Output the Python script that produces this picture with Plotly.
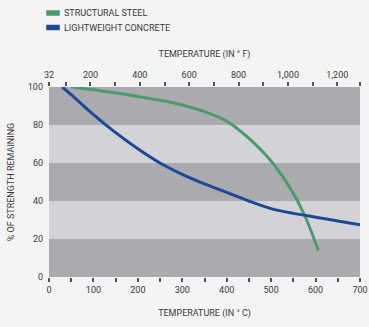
import plotly.graph_objects as go

# ---- data ----
steel_c = [50, 100, 150, 200, 250, 300, 350, 400, 450, 500, 550, 580, 606]
steel_pct = [100, 98.5, 97, 95, 93, 90.5, 87, 82, 73, 61, 44, 30, 14]
concrete_c = [30, 50, 100, 150, 200, 250, 300, 350, 400, 450, 500, 550, 600, 650, 700]
concrete_pct = [100, 96, 85.5, 76, 67.5, 60, 54, 49, 44.5, 40, 36, 33.5, 31.5, 29.5, 27.5]

c_ticks = [0, 50, 100, 150, 200, 250, 300, 350, 400, 450, 500, 550, 600, 650, 700]
c_labels = ["0", "", "100", "", "200", "", "300", "", "400", "", "500", "", "600", "", "700"]
f_ticks = [32, 100, 200, 300, 400, 500, 600, 700, 800, 900, 1000, 1100, 1200, 1292]
f_labels = ["32", "", "200", "", "400", "", "600", "", "800", "", "1,000", "", "1,200", ""]
y_ticks = [0, 20, 40, 60, 80, 100]
dark_bands = [(0, 20), (40, 60), (80, 100)]

series_names = ["STRUCTURAL STEEL", "LIGHTWEIGHT CONCRETE"]
GREEN = "#4a9a6c"
BLUE = "#1d4896"
FONT = "Roboto, sans-serif"
TXT = "#3a3a3a"

fig = go.Figure()
fig.add_trace(go.Scatter(x=steel_c, y=steel_pct, mode="lines", name=series_names[0],
                         line=dict(color=GREEN, width=3, shape="spline", smoothing=0.8),
                         showlegend=False))
fig.add_trace(go.Scatter(x=concrete_c, y=concrete_pct, mode="lines", name=series_names[1],
                         line=dict(color=BLUE, width=3, shape="spline", smoothing=0.8),
                         showlegend=False))
# invisible trace to activate the Fahrenheit axis
fig.add_trace(go.Scatter(x=[f_ticks[0], f_ticks[-1]], y=[0, 0], xaxis="x2", mode="markers",
                         marker=dict(opacity=0), hoverinfo="skip", showlegend=False))

shapes = []
for lo, hi in dark_bands:
    shapes.append(dict(type="rect", xref="paper", yref="y", x0=0, x1=1, y0=lo, y1=hi,
                       fillcolor="#ababaf", line=dict(width=0), layer="below"))

# legend pills
legend_y = [13, 27.5]
for col, yy in zip([GREEN, BLUE], legend_y):
    shapes.append(dict(type="rect", xref="paper", yref="paper",
                       x0=(47 - 49) / 311, x1=(59 - 49) / 311,
                       y0=(277 - yy - 2) / 190, y1=(277 - yy + 2) / 190,
                       fillcolor=col, line=dict(color=col, width=1.5), layer="above"))

annotations = []
for name, yy in zip(series_names, legend_y):
    annotations.append(dict(text=name, xref="paper", yref="paper",
                            x=(62 - 49) / 311, y=(277 - yy) / 190, xanchor="left", yanchor="middle",
                            showarrow=False, font=dict(family=FONT, size=9, color=TXT)))

fig.update_layout(
    width=369, height=327,
    margin=dict(l=49, r=9, t=87, b=50, autoexpand=False),
    paper_bgcolor="#f4f4f4",
    plot_bgcolor="#d3d3d7",
    font=dict(family=FONT, size=9, color=TXT),
    shapes=shapes,
    annotations=annotations,
    xaxis=dict(range=[0, 700], tickvals=c_ticks, ticktext=c_labels, ticks="outside",
               ticklen=4, tickwidth=1.5, tickcolor="#555", showgrid=False, zeroline=False,
               showline=False, automargin=False,
               title=dict(text="TEMPERATURE (IN ° C)", standoff=15, font=dict(size=9)),
               fixedrange=True),
    xaxis2=dict(range=[f_ticks[0], f_ticks[-1]], overlaying="x", side="top", anchor="y",
                tickvals=f_ticks, ticktext=f_labels, ticks="outside", ticklen=4, tickwidth=1.5,
                tickcolor="#555", showgrid=False, zeroline=False, showline=False, automargin=False,
                title=dict(text="TEMPERATURE (IN ° F)", standoff=11, font=dict(size=9))),
    yaxis=dict(range=[0, 100], tickvals=y_ticks, ticks="", showgrid=False, zeroline=False,
               showline=False, ticklabelstandoff=5, automargin=False,
               title=dict(text="% OF STRENGTH REMAINING", standoff=11, font=dict(size=9))),
)

fig.write_html("out.html")
